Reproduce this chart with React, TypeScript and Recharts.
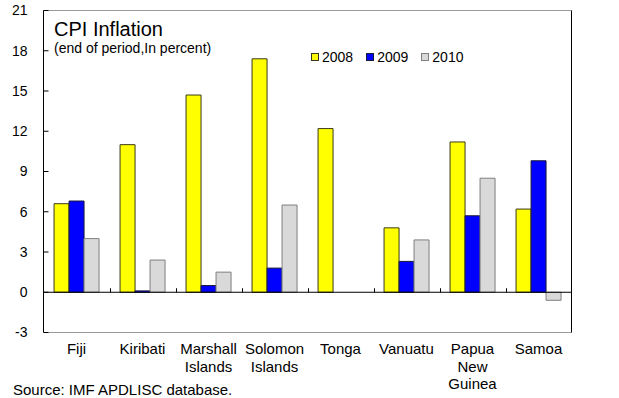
import { Bar, BarChart, Legend, ReferenceLine, XAxis, YAxis } from 'recharts';

const FONT = '"Liberation Sans", Arial, sans-serif';

const countries = ['Fiji', 'Kiribati', 'Marshall\nIslands', 'Solomon\nIslands', 'Tonga', 'Vanuatu', 'Papua\nNew\nGuinea', 'Samoa'];
const cpi2008 = [6.6, 11.0, 14.7, 17.4, 12.2, 4.8, 11.2, 6.2];
const cpi2009 = [6.8, 0.1, 0.5, 1.8, null, 2.3, 5.7, 9.8];
const cpi2010 = [4.0, 2.4, 1.5, 6.5, null, 3.9, 8.5, -0.6];
const yTicks = [-3, 0, 3, 6, 9, 12, 15, 18, 21];

const series = [
  { key: 'y2008', name: '2008', fill: '#ffff00', stroke: '#3a3a1a' },
  { key: 'y2009', name: '2009', fill: '#0000ff', stroke: '#1a1a3a' },
  { key: 'y2010', name: '2010', fill: '#d9d9d9', stroke: '#7f7f7f' }
];

const rows = countries.map((country, i) => ({
  country,
  y2008: cpi2008[i],
  y2009: cpi2009[i],
  y2010: cpi2010[i]
}));

type TickProps = {
  x?: number;
  y?: number;
  payload?: { value: string };
};

function CountryTick({ x = 0, y = 0, payload }: TickProps) {
  const lines = String(payload?.value ?? '').split('\n');
  return (
    <text x={x} y={y} textAnchor="middle" fontFamily={FONT} fontSize={15} fill="#000">
      {lines.map((line, i) => (
        <tspan key={line} x={x} dy={i === 0 ? 21.5 : 17.5}>
          {line}
        </tspan>
      ))}
    </text>
  );
}

// zero line with small upward ticks between the country groups
function ZeroLine(props: any) {
  const { x1, x2, y1 } = props;
  const step = (x2 - x1) / countries.length;
  return (
    <g>
      <line x1={x1} x2={x2} y1={y1} y2={y1} stroke="#000" strokeWidth={1} />
      {countries.slice(1).map((c, i) => {
        const tx = Math.round(x1 + step * (i + 1)) + 0.5;
        return <line key={c} x1={tx} x2={tx} y1={y1} y2={y1 - 4} stroke="#000" strokeWidth={1} />;
      })}
    </g>
  );
}

function LegendBox() {
  return (
    <div style={{ display: 'flex', alignItems: 'center', fontFamily: FONT, fontSize: 14, color: '#000' }}>
      {series.map((s) => (
        <span key={s.key} style={{ display: 'flex', alignItems: 'center', marginRight: 13 }}>
          <i
            style={{
              display: 'inline-block',
              width: 6,
              height: 6,
              background: s.fill,
              border: `1px solid ${s.stroke}`,
              marginRight: 3
            }}
          />
          {s.name}
        </span>
      ))}
    </div>
  );
}

export default function App() {
  return (
    <div style={{ position: 'absolute', left: 0, top: 0, width: 619, height: 398, background: '#fff', overflow: 'hidden' }}>
      <BarChart
        width={619}
        height={398}
        data={rows}
        margin={{ top: 10.5, right: 0, bottom: 0, left: 0 }}
        barCategoryGap="16%"
        barGap={0}
      >
        <XAxis
          dataKey="country"
          interval={0}
          height={65.5}
          axisLine={false}
          tickLine={false}
          tickSize={0}
          tickMargin={0}
          tick={<CountryTick />}
        />
        <YAxis
          yAxisId="left"
          orientation="left"
          width={43.5}
          domain={[-3, 21]}
          ticks={yTicks}
          interval={0}
          axisLine={{ stroke: '#000' }}
          tickLine={{ stroke: '#000' }}
          tickSize={-5}
          tickMargin={21}
          tick={{ fontFamily: FONT, fontSize: 14, fill: '#000' }}
        />
        <YAxis
          yAxisId="right"
          orientation="right"
          width={47.5}
          domain={[-3, 21]}
          ticks={yTicks}
          interval={0}
          axisLine={{ stroke: '#000' }}
          tickLine={{ stroke: '#000' }}
          tickSize={-5}
          tickMargin={19}
          tick={{ fontFamily: FONT, fontSize: 14, fill: '#000', textAnchor: 'start' }}
        />
        <Legend
          layout="horizontal"
          verticalAlign="middle"
          align="center"
          content={<LegendBox />}
          wrapperStyle={{ top: 48.5, left: 311, width: 'auto', height: 20 }}
        />
        {series.map((s) => (
          <Bar
            key={s.key}
            yAxisId="left"
            dataKey={s.key}
            name={s.name}
            fill={s.fill}
            stroke={s.stroke}
            strokeWidth={1}
            isAnimationActive={false}
          />
        ))}
        <ReferenceLine yAxisId="left" y={21} stroke="#9a9a9a" strokeWidth={1} />
        <ReferenceLine yAxisId="left" y={-3} stroke="#9a9a9a" strokeWidth={1} />
        <ReferenceLine yAxisId="left" y={0} shape={<ZeroLine />} />
      </BarChart>
      <svg width={619} height={398} style={{ position: 'absolute', left: 0, top: 0, pointerEvents: 'none' }}>
        <text x={54} y={36} fontFamily={FONT} fontSize={20} fill="#000">
          CPI Inflation
        </text>
        <text x={54} y={53} fontFamily={FONT} fontSize={14} fill="#000">
          (end of period,In percent)
        </text>
        <text x={13} y={395} fontFamily={FONT} fontSize={15} fill="#000">
          Source: IMF APDLISC database.
        </text>
      </svg>
    </div>
  );
}
